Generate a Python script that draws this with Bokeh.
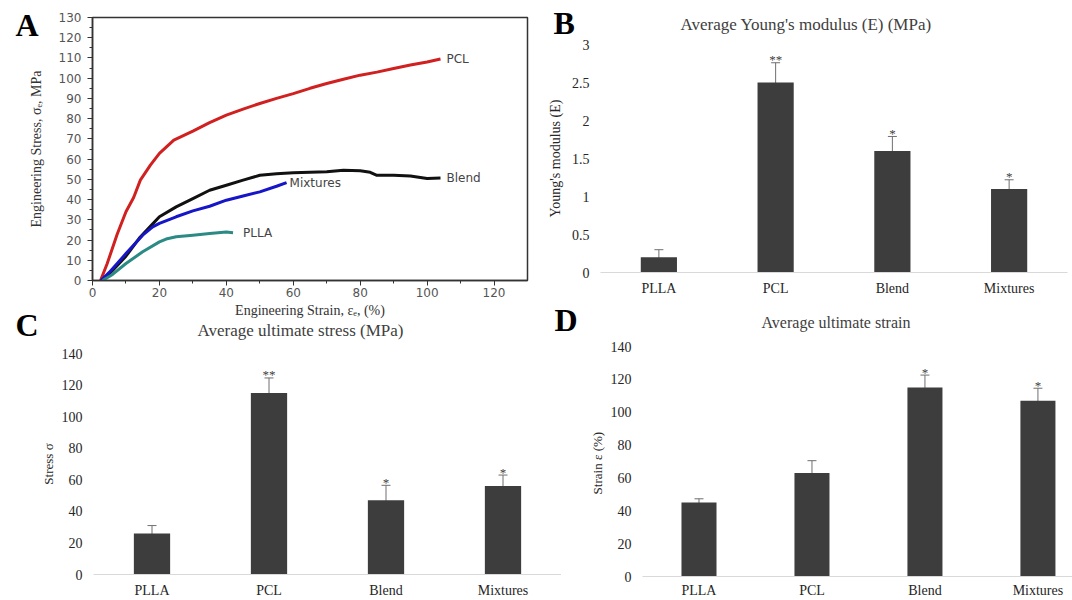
from bokeh.plotting import figure
from bokeh.layouts import column
from bokeh.models import (ColumnDataSource, Whisker, TeeHead, FixedTicker, Label,
                          Range1d, FactorRange, GridBox)
from bokeh.core.properties import value
from bokeh.embed import file_html
from bokeh.resources import INLINE

SERIF = "Liberation Serif"
SANS = "DejaVu Sans"

# ---------------- Panel A: stress-strain curves ----------------
pcl_strain = [2.4, 4.4, 7.4, 10, 12.3, 14.3, 17.3, 20, 24.3, 30, 35, 40, 45, 50, 55, 60,
              65, 70, 75, 80, 85, 90, 95, 100, 104]
pcl_stress = [0, 8.4, 23, 34, 41, 49.6, 57, 62.8, 69.4, 73.8, 78, 81.7, 84.7, 87.5, 90,
              92.4, 95, 97.4, 99.5, 101.5, 103, 104.8, 106.5, 108, 109.5]

blend_strain = [3, 6, 10, 14, 18, 20, 25, 30, 35, 40, 45, 50, 55, 60, 65, 70, 75, 80, 83,
                85, 90, 95, 100, 104]
blend_stress = [0, 5, 12, 21, 28, 31.5, 36.4, 40.5, 44.6, 47.1, 49.6, 52, 52.8, 53.2,
                53.5, 53.7, 54.5, 54.2, 53.5, 52, 52, 51.7, 50.4, 50.7]

mix_strain = [2.5, 5, 10, 15, 18, 20, 25, 30, 35, 40, 45, 50, 55, 58]
mix_stress = [0, 4, 13.3, 22.4, 26.5, 28.2, 31.5, 34.4, 36.7, 39.7, 41.8, 43.8, 46.6, 48.4]

plla_strain = [3, 6, 10, 15, 20, 22, 25, 30, 35, 40, 42]
plla_stress = [0, 3, 8.4, 14.2, 19.1, 20.5, 21.6, 22.4, 23.2, 24, 23.6]

a_x_ticks = [0, 20, 40, 60, 80, 100, 120]
a_x_minor = [10, 30, 50, 70, 90, 110]
a_y_ticks = [0, 10, 20, 30, 40, 50, 60, 70, 80, 90, 100, 110, 120, 130]
a_y_minor = [5, 15, 25, 35, 45, 55, 65, 75, 85, 95, 105, 115, 125]

# ---------------- Panels B-D: bar charts ----------------
categories = ["PLLA", "PCL", "Blend", "Mixtures"]

modulus = [0.2, 2.5, 1.6, 1.1]
modulus_err = [0.1, 0.26, 0.19, 0.12]
modulus_sig = ["", "**", "*", "*"]
b_y_ticks = [0, 0.5, 1, 1.5, 2, 2.5, 3]
b_y_labels = ["0", "0.5", "1", "1.5", "2", "2.5", "3"]

stress = [26, 115, 47, 56]
stress_err = [5, 9.5, 9.5, 7]
stress_sig = ["", "**", "*", "*"]
c_y_ticks = [0, 20, 40, 60, 80, 100, 120, 140]

strain = [45, 63, 115, 107]
strain_err = [2.3, 7.5, 7.6, 7.6]
strain_sig = ["", "", "*", "*"]
d_y_ticks = [0, 20, 40, 60, 80, 100, 120, 140]

panel_letters = ["A", "B", "C", "D"]

BAR = "#3d3d3d"
ERR = "#6f6f6f"
TXT = "#404040"


def base_fig(width, height, x_range, y_range, borders):
    l, r, t, b = borders
    p = figure(width=width, height=height, x_range=x_range, y_range=y_range,
               output_backend="svg", toolbar_location=None,
               min_border_left=l, min_border_right=r, min_border_top=t,
               min_border_bottom=b)
    p.background_fill_color = None
    p.border_fill_color = None
    p.xgrid.grid_line_color = None
    p.ygrid.grid_line_color = None
    return p


# ---- Panel A ----
pA = base_fig(544, 320, Range1d(0, 130), Range1d(0, 130), (92, 17, 17, 40))
pA.outline_line_color = "#333333"
pA.outline_line_width = 1.5
curves = [
    ("PCL", pcl_strain, pcl_stress, "#d02020", 6),
    ("Blend", blend_strain, blend_stress, "#111111", 6),
    ("Mixtures", mix_strain, mix_stress, "#1616c8", 3),
    ("PLLA", plla_strain, plla_stress, "#2b8a84", 10),
]
for name, xs, ys, col, off in curves:
    pA.line(xs, ys, line_color=col, line_width=3)
for name, xs, ys, col, off in curves:
    pA.text(x=[xs[-1]], y=[ys[-1]], text=[name], x_offset=off,
            text_font=value(SANS), text_font_size="12px", text_color="#444444",
            text_baseline="middle", text_align="left")

for ax in (pA.xaxis[0], pA.yaxis[0]):
    ax.axis_line_color = "#333333"
    ax.axis_line_width = 1.5
    ax.major_tick_line_color = "#333333"
    ax.major_tick_in = 0
    ax.major_tick_out = 5
    ax.minor_tick_line_color = "#333333"
    ax.minor_tick_in = 0
    ax.minor_tick_out = 3
    ax.major_label_text_font = SANS
    ax.major_label_text_font_size = "12px"
    ax.major_label_text_color = "#555555"
    ax.axis_label_text_font = SERIF
    ax.axis_label_text_font_style = "normal"
    ax.axis_label_text_font_size = "14px"
    ax.axis_label_text_color = "#333333"
pA.xaxis.ticker = FixedTicker(ticks=a_x_ticks, minor_ticks=a_x_minor)
pA.yaxis.ticker = FixedTicker(ticks=a_y_ticks, minor_ticks=a_y_minor)
pA.xaxis.axis_label = "Engineering Strain, εₑ, (%)"
pA.yaxis.axis_label = "Engineering Stress, σₑ, MPa"
pA.xaxis.major_label_standoff = 2
pA.xaxis.axis_label_standoff = 3
pA.yaxis.major_label_standoff = 6
pA.yaxis.axis_label_standoff = 12


def bar_panel(width, height, borders, vals, errs, sig, yticks, ytitle, title,
              title_off, title_size, title_standoff, numeric_end=None, ylabels=None,
              ylabel_size="14px", ylabel_standoff=3, xlabel_standoff=8):
    ymax = yticks[-1]
    if numeric_end is None:
        xr = FactorRange(*categories)
        xs = categories
    else:
        xr = Range1d(-0.5, numeric_end)
        xs = list(range(len(categories)))
    p = base_fig(width, height, xr, Range1d(0, ymax), borders)
    p.outline_line_color = None
    lower = [v - e for v, e in zip(vals, errs)]
    upper = [v + e for v, e in zip(vals, errs)]
    src = ColumnDataSource(dict(x=xs, top=vals, lower=lower, upper=upper, sig=sig))
    p.vbar(x="x", top="top", width=0.31, source=src, fill_color=BAR, line_color=None)
    p.add_layout(Whisker(base="x", upper="upper", lower="lower", source=src,
                         line_color=ERR, line_width=1,
                         upper_head=TeeHead(size=9, line_color=ERR, line_width=1),
                         lower_head=None))
    p.text(x="x", y="upper", text="sig", source=src, text_align="center",
           text_baseline="alphabetic", y_offset=-3, text_font=value(SERIF),
           text_font_size="13px", text_color=TXT)
    p.title.text = title
    p.title.align = "left"
    p.title.offset = title_off
    p.title.text_font = SERIF
    p.title.text_font_style = "normal"
    p.title.text_font_size = title_size
    p.title.text_color = TXT
    p.title.standoff = title_standoff
    xa = p.xaxis[0]
    ya = p.yaxis[0]
    xa.axis_line_color = "#d9d9d9"
    xa.axis_line_width = 1
    xa.major_tick_line_color = None
    xa.minor_tick_line_color = None
    xa.major_tick_out = 0
    xa.major_tick_in = 0
    xa.minor_tick_out = 0
    xa.minor_tick_in = 0
    xa.major_label_text_font = SERIF
    xa.major_label_text_font_size = "14px"
    xa.major_label_text_color = "#262626"
    xa.major_label_standoff = xlabel_standoff
    if numeric_end is not None:
        xa.ticker = FixedTicker(ticks=xs, minor_ticks=[])
        xa.major_label_overrides = {i: c for i, c in zip(xs, categories)}
    ya.axis_line_color = None
    ya.major_tick_line_color = None
    ya.minor_tick_line_color = None
    ya.major_tick_out = 0
    ya.major_tick_in = 0
    ya.minor_tick_out = 0
    ya.minor_tick_in = 0
    ya.ticker = FixedTicker(ticks=yticks, minor_ticks=[])
    if ylabels is not None:
        ya.major_label_overrides = {t: l for t, l in zip(yticks, ylabels)}
    ya.major_label_text_font = SERIF
    ya.major_label_text_font_size = "14px"
    ya.major_label_text_color = "#262626"
    ya.major_label_standoff = 11
    ya.axis_label = ytitle
    ya.axis_label_text_font = SERIF
    ya.axis_label_text_font_style = "normal"
    ya.axis_label_text_font_size = ylabel_size
    ya.axis_label_text_color = "#262626"
    ya.axis_label_standoff = ylabel_standoff
    return p


# canvases: B x 544-1072 y 0-316 ; C x 0-561 y 303-600 ; D x 561-1072 y 294-600
pB = bar_panel(528, 316, (53, 5, 44, 44), modulus, modulus_err, modulus_sig, b_y_ticks,
               "Young's modulus (E)", "Average Young's modulus (E) (MPa)", 80, "17px", 22,
               ylabels=b_y_labels, ylabel_standoff=6)
pC = bar_panel(561, 297, (93, 0, 50, 26), stress, stress_err, stress_sig, c_y_ticks,
               "Stress σ", "Average ultimate stress (MPa)", 104, "17px", 28,
               ylabel_size="13px")
pD = bar_panel(511, 306, (81, 0, 52, 23), strain, strain_err, strain_sig, d_y_ticks,
               "Strain ε  (%)", "Average ultimate strain", 119, "16px", 32,
               numeric_end=3.306, ylabel_size="13px", xlabel_standoff=6)

# transparent overlay carrying the panel letters
pL = figure(width=1072, height=600, x_range=Range1d(0, 1072), y_range=Range1d(0, 600),
            output_backend="svg", toolbar_location=None, min_border=0,
            x_axis_location=None, y_axis_location=None)
pL.background_fill_color = None
pL.border_fill_color = None
pL.outline_line_color = None
pL.xgrid.grid_line_color = None
pL.ygrid.grid_line_color = None
letter_pos = [(15, 576), (553, 578), (15, 276), (554, 281)]
for txt, (lx, ly) in zip(panel_letters, letter_pos):
    pL.add_layout(Label(x=lx, y=ly, x_units="screen", y_units="screen", text=txt,
                        text_font=SERIF, text_font_style="bold", text_font_size="32px",
                        text_color="black", text_baseline="alphabetic"))

layout = GridBox(
    children=[
        (column(pA), 0, 0, 4, 1),
        (column(pB), 0, 1, 3, 2),
        (column(pC), 2, 0, 3, 2),
        (column(pD), 1, 2, 4, 1),
        (pL, 0, 0, 5, 3),
    ],
    rows=["294px", "9px", "13px", "4px", "280px"],
    cols=["544px", "17px", "511px"],
    width=1072, height=600,
)
open("out.html", "w").write(file_html(layout, INLINE))
